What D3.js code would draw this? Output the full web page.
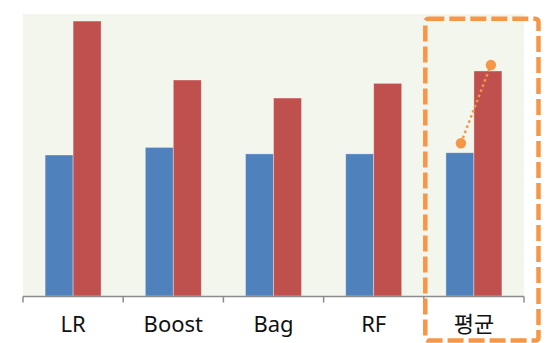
<!DOCTYPE html>
<html>
<head>
<meta charset="utf-8">
<script src="https://cdn.jsdelivr.net/npm/d3@7"></script>
<style>
  html, body { margin: 0; padding: 0; background: #ffffff; }
  svg { display: block; }
</style>
</head>
<body>
<svg id="chart" width="552" height="343"></svg>
<script>
// Model names along the x axis
const categories = ["LR", "Boost", "Bag", "RF", "평균"];
// Two series per model
const seriesNames = ["before", "after"];
const beforeValues = [50.0, 52.7, 50.4, 50.4, 50.8];
const afterValues  = [97.5, 76.6, 70.2, 75.4, 79.8];
const seriesColors = ["#4F81BD", "#C0504D"];

const svg = d3.select("#chart");
const plot = { left: 23, right: 524, top: 14, bottom: 296 };

const x = d3.scaleBand().domain(categories).range([plot.left, plot.right]).paddingInner(0).paddingOuter(0);
const xs = d3.scaleBand().domain(seriesNames).range([0, x.bandwidth()]).paddingInner(0).paddingOuter(0.789);
const y = d3.scaleLinear().domain([0, 100]).range([plot.bottom, plot.top]);

// plot background
svg.append("rect")
  .attr("x", plot.left).attr("y", plot.top)
  .attr("width", plot.right - plot.left).attr("height", plot.bottom - plot.top)
  .attr("fill", "#F3F6EC");

const rows = categories.map((c, i) => ({ cat: c, values: [beforeValues[i], afterValues[i]] }));

const groups = svg.append("g").selectAll("g").data(rows).join("g")
  .attr("transform", d => `translate(${x(d.cat)},0)`);

groups.selectAll("rect")
  .data(d => d.values.map((v, j) => ({ key: seriesNames[j], v, color: seriesColors[j] })))
  .join("rect")
  .attr("x", d => xs(d.key))
  .attr("y", d => y(d.v))
  .attr("width", xs.bandwidth())
  .attr("height", d => y(0) - y(d.v))
  .attr("fill", d => d.color)
  .attr("stroke", "rgba(255,255,255,0.45)")
  .attr("stroke-width", 0.8);

// category axis
const axis = d3.axisBottom(x).tickSize(6).tickFormat("");
const gAxis = svg.append("g").attr("transform", `translate(0,${plot.bottom + 0.5})`);
gAxis.append("line")
  .attr("x1", plot.left).attr("x2", plot.right)
  .attr("stroke", "#8C8C8C").attr("stroke-width", 1.5);
const edges = categories.map(c => x(c)).concat([plot.right]);
gAxis.selectAll("line.tick").data(edges).join("line")
  .attr("class", "tick")
  .attr("x1", d => d).attr("x2", d => d)
  .attr("y1", 0).attr("y2", 6)
  .attr("stroke", "#8C8C8C").attr("stroke-width", 1.5);

svg.append("g").selectAll("text").data(categories).join("text")
  .attr("x", d => x(d) + x.bandwidth() / 2)
  .attr("y", 331.5)
  .attr("text-anchor", "middle")
  .attr("font-family", "'Noto Sans', 'Noto Sans CJK KR', sans-serif")
  .attr("font-size", 22)
  .attr("fill", "#111111")
  .text(d => d);

// highlight around the average group
const last = categories[categories.length - 1];
const hx0 = x(last) + 1.5;
const hx1 = plot.right + 14.5;
svg.append("rect")
  .attr("x", hx0).attr("y", 18.8)
  .attr("width", hx1 - hx0).attr("height", 340.5 - 18.8)
  .attr("rx", 3).attr("ry", 3)
  .attr("fill", "none")
  .attr("stroke", "#F79646")
  .attr("stroke-width", 4.5)
  .attr("stroke-dasharray", "16,5");

// rise marker from the first series to the second in the average group
const iLast = categories.length - 1;
const p0 = [x(last) + xs("before") + xs.bandwidth() / 2 + 1, y(beforeValues[iLast]) - 9.5];
const p1 = [x(last) + xs("after") + xs.bandwidth() / 2 + 3, y(afterValues[iLast]) - 6];
svg.append("line")
  .attr("x1", p0[0]).attr("y1", p0[1])
  .attr("x2", p1[0]).attr("y2", p1[1])
  .attr("stroke", "#F79646")
  .attr("stroke-width", 2.5)
  .attr("stroke-dasharray", "2.5,3");
svg.selectAll("circle.end").data([p0, p1]).join("circle")
  .attr("class", "end")
  .attr("cx", d => d[0]).attr("cy", d => d[1])
  .attr("r", 5.2)
  .attr("fill", "#F79646");
</script>
</body>
</html>
